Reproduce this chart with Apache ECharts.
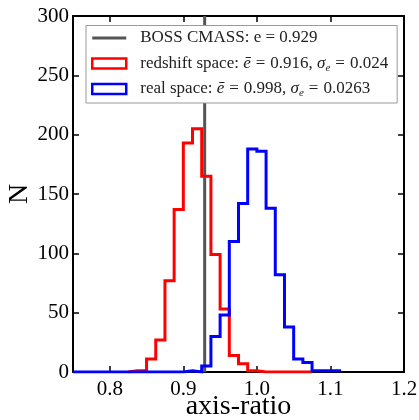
<!DOCTYPE html>
<html>
<head>
<meta charset="utf-8">
<script src="https://cdn.jsdelivr.net/npm/echarts@6/dist/echarts.min.js"></script>
<style>html,body{margin:0;padding:0;background:#fff}#c{width:419px;height:420px}</style>
</head>
<body>
<div id="c"></div>
<script>
// Histogram bin edges and counts
const redEdges = [0.825,0.8375,0.85,0.8625,0.875,0.8875,0.9,0.9125,0.925,0.9375,0.95,0.9625,0.975,0.9875,1.0,1.0125,1.025,1.0375,1.05,1.0625,1.075];
const redCounts = [1,1,11,27,77,137,193,205,165,99,53,14,7,1,0,0,0,0,0,0];
const blueEdges = [0.75,0.7625,0.775,0.7875,0.8,0.8125,0.825,0.8375,0.85,0.8625,0.875,0.8875,0.9,0.9125,0.925,0.9375,0.95,0.9625,0.975,0.9875,1.0,1.0125,1.025,1.0375,1.05,1.0625,1.075,1.0875,1.1,1.1125];
const blueCounts = [0,0,0,0,0,0,0,0,0,0,0,0,1,0,5,30,48,110,142,188,186,138,82,38,11,8,1,1,1];
const cmassE = 0.929;
const xTicks = [0.8,0.9,1.0,1.1,1.2];
const yTicks = [0,50,100,150,200,250,300];
const names = ['BOSS CMASS','redshift space','real space'];
const legendLabels = {
  'BOSS CMASS': 'BOSS CMASS: e = 0.929',
  'redshift space': 'redshift space: {i|ē}{eq|=}0.916, {i|σ}{s|e}{eq|=}0.024',
  'real space': 'real space: {i|ē}{eq|=}0.998, {i|σ}{s|e}{eq|=}0.0263'
};

function stepPoints(edges, counts) {
  const pts = [[edges[0], 0]];
  for (let i = 0; i < counts.length; i++) pts.push([edges[i], counts[i]]);
  pts.push([edges[edges.length - 1], 0]);
  return pts;
}

const FONT = 'Liberation Serif';
const TXT = '#222';
const chart = echarts.init(document.getElementById('c'));
const axisCommon = {
  type: 'value',
  axisLine: {show: true, onZero: false, lineStyle: {color: '#000', width: 2}},
  axisTick: {show: true, inside: true, length: 6, lineStyle: {color: '#000', width: 1.5}},
  splitLine: {show: false},
  nameMoveOverlap: false
};
chart.setOption({
  animation: false,
  backgroundColor: '#fff',
  grid: {left: 73, right: 15, top: 16, bottom: 48, containLabel: false, outerBoundsMode: 'none'},
  xAxis: [
    Object.assign({}, axisCommon, {
      min: 0.75, max: 1.2, position: 'bottom',
      axisTick: Object.assign({}, axisCommon.axisTick, {customValues: xTicks}),
      axisLabel: {customValues: xTicks, formatter: v => v.toFixed(1), fontFamily: FONT, fontSize: 21, color: '#000', margin: 7},
      name: 'axis-ratio', nameLocation: 'middle', nameGap: 21,
      nameTextStyle: {fontFamily: FONT, fontSize: 28, color: '#000'}
    }),
    Object.assign({}, axisCommon, {
      min: 0.75, max: 1.2, position: 'top',
      axisTick: Object.assign({}, axisCommon.axisTick, {customValues: xTicks}),
      axisLabel: {show: false}
    })
  ],
  yAxis: [
    Object.assign({}, axisCommon, {
      min: 0, max: 300, interval: 50, position: 'left',
      axisLabel: {formatter: v => String(v), fontFamily: FONT, fontSize: 21, color: '#000', margin: 4},
      name: 'N', nameLocation: 'middle', nameGap: 39, nameRotate: 90,
      nameTextStyle: {fontFamily: FONT, fontSize: 28, color: '#000'}
    }),
    Object.assign({}, axisCommon, {
      min: 0, max: 300, interval: 50, position: 'right',
      axisLabel: {show: false}
    })
  ],
  legend: {
    orient: 'vertical', left: 86, top: 25.5, padding: [2.5, 9, 4, 5], z: 999,
    backgroundColor: '#ffffff', borderColor: '#999', borderWidth: 1,
    itemWidth: 34, itemHeight: 10, itemGap: 5.5,
    data: [
      {name: names[0], icon: 'path://M0,0H34V3H0Z', itemStyle: {color: '#555', borderWidth: 0}},
      {name: names[1], icon: 'rect', itemStyle: {color: 'rgba(0,0,0,0)', borderColor: '#ff0000', borderWidth: 2.5}},
      {name: names[2], icon: 'rect', itemStyle: {color: 'rgba(0,0,0,0)', borderColor: '#0000ff', borderWidth: 2.5}}
    ],
    formatter: n => legendLabels[n],
    textStyle: {
      fontFamily: FONT, fontSize: 17, color: TXT, lineHeight: 20, padding: [0, 0, 0, 9],
      rich: {
        i: {fontFamily: FONT, fontStyle: 'italic', fontSize: 17, color: TXT, lineHeight: 20},
        eq: {fontFamily: FONT, fontSize: 17, color: TXT, lineHeight: 20, padding: [0, 5, 0, 5]},
        s: {fontFamily: FONT, fontStyle: 'italic', fontSize: 11, color: TXT, lineHeight: 11, verticalAlign: 'bottom'}
      }
    }
  },
  series: [
    {
      name: names[0], type: 'line', symbol: 'none', z: 1,
      data: [[cmassE, 0], [cmassE, 300]],
      lineStyle: {color: '#555', width: 3}, itemStyle: {color: '#555'}
    },
    {
      name: names[1], type: 'line', step: 'end', symbol: 'none', z: 2,
      data: stepPoints(redEdges, redCounts),
      lineStyle: {color: '#ff0000', width: 3, join: 'miter'}, itemStyle: {color: '#ff0000'}
    },
    {
      name: names[2], type: 'line', step: 'end', symbol: 'none', z: 2,
      data: stepPoints(blueEdges, blueCounts),
      lineStyle: {color: '#0000ff', width: 3, join: 'miter'}, itemStyle: {color: '#0000ff'}
    }
  ]
});
</script>
</body>
</html>
